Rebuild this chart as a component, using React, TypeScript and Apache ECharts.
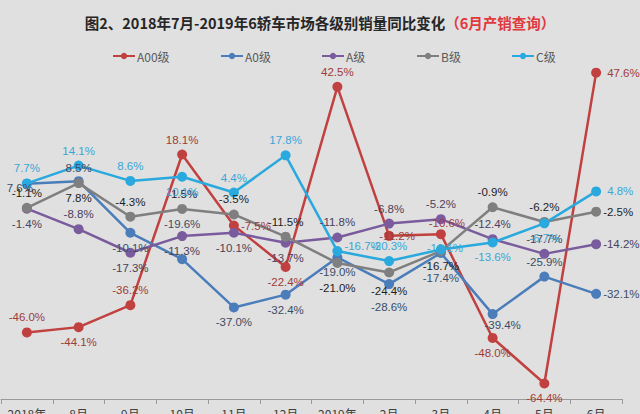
import React, { useEffect, useRef } from "react";
import * as echarts from "echarts";

const categories = ["2018年\n7月", "8月", "9月", "10月", "11月", "12月", "2019年\n1月", "2月", "3月", "4月", "5月", "6月"];
const seriesNames = ["A00级", "A0级", "A级", "B级", "C级"];
const a00Values = [-46.0, -44.1, -36.2, 18.1, -7.5, -22.4, 42.5, -11.2, -10.6, -48.0, -64.4, 47.6];
const a0Values = [7.6, 8.5, -10.1, -19.6, -37.0, -32.4, -19.0, -28.6, -17.4, -39.4, -25.9, -32.1];
const aValues = [-1.4, -8.8, -17.3, -11.3, -10.1, -13.7, -11.8, -6.8, -5.2, -12.4, -17.7, -14.2];
const bValues = [-1.1, 7.8, -4.3, -1.5, -3.5, -11.5, -21.0, -24.4, -16.7, -0.9, -6.2, -2.5];
const cValues = [7.7, 14.1, 8.6, 10.1, 4.4, 17.8, -16.7, -20.3, -16.1, -13.6, -6.7, 4.8];

// label placement per point (layout only)
type LP = [string, number, number];
const a00Pos: LP[] = [["top", 0, 0], ["bottom", 0, 0], ["top", 0, 0], ["top", 0, 0], ["right", -2, 0], ["bottom", 0, 0], ["top", 0, 0], ["inside", 8, 0], ["top", 6, 4], ["bottom", 0, 0], ["bottom", 0, 0], ["right", 2, 0]];
const a0Pos: LP[] = [["inside", -7, 4], ["top", 0, 2], ["bottom", 0, 0], ["top", 0, -20], ["bottom", 0, 0], ["bottom", 0, 0], ["bottom", 0, 0], ["bottom", 0, 8], ["bottom", 0, 10], ["bottom", 10, -4], ["top", 0, 0], ["right", -2, 0]];
const aPos: LP[] = [["bottom", 0, 0], ["top", 0, 0], ["bottom", 0, 0], ["bottom", 0, 0], ["bottom", 0, 0], ["bottom", 0, 0], ["top", 0, 0], ["top", 0, 0], ["top", 0, 0], ["top", 0, 0], ["top", 0, 0], ["right", -2, 0]];
const bPos: LP[] = [["top", 0, 0], ["bottom", 0, 0], ["top", 0, 0], ["top", 0, 0], ["top", 0, 0], ["top", 0, 0], ["bottom", 0, 10], ["bottom", 0, 4], ["bottom", 0, 0], ["top", 0, 0], ["top", 0, 0], ["right", -2, 0]];
const cPos: LP[] = [["top", 0, 0], ["top", 0, 0], ["top", 0, 0], ["bottom", 0, 0], ["top", 0, 0], ["top", 0, 0], ["right", -2, -5], ["top", 0, 0], ["top", 4, 14], ["bottom", 0, 0], ["bottom", 0, 0], ["right", 2, 0]];

const lineColors = ["#c0413f", "#4a7dba", "#7a5c9e", "#7f7f7f", "#2aa9de"];
const labelColors = ["#9e3b39", "#3b4d66", "#4a3f5c", "#1e1e1e", "#3aa6d6"];
const legendLefts = [107, 215, 316, 411, 506];

export default function App() {
  const ref = useRef<HTMLDivElement>(null);
  useEffect(() => {
    if (!ref.current) return;
    const chart = echarts.init(ref.current, null, { renderer: "svg" });
    const all = [a00Values, a0Values, aValues, bValues, cValues];
    const poss = [a00Pos, a0Pos, aPos, bPos, cPos];
    const series = all.map((vals, si) => ({
      name: seriesNames[si],
      type: "line",
      data: vals.map((v, i) => ({
        value: v,
        label: { position: poss[si][i][0], offset: [poss[si][i][1], poss[si][i][2]] },
      })),
      symbol: "circle",
      symbolSize: 10,
      lineStyle: { width: 2.5, color: lineColors[si] },
      itemStyle: { color: lineColors[si] },
      label: {
        show: true,
        formatter: (p: any) => p.value.toFixed(1) + "%",
        color: labelColors[si],
        fontSize: 11.5,
        fontFamily: "Liberation Sans",
        distance: 4,
      },
    }));
    chart.setOption({
      animation: false,
      backgroundColor: "#e0e0e0",
      title: {
        text: "{a|图2、2018年7月-2019年6轿车市场各级别销量同比变化}{b|（6月产销查询）}",
        left: "center",
        top: 10,
        textStyle: {
          rich: {
            a: { fontSize: 14.5, fontWeight: "bold", color: "#262626", fontFamily: "Noto Sans CJK SC" },
            b: { fontSize: 14.5, fontWeight: "bold", color: "#e0393e", fontFamily: "Noto Sans CJK SC" },
          },
        },
      },
      legend: seriesNames.map((n, i) => ({
        data: [n],
        left: legendLefts[i],
        top: 45,
        itemWidth: 22,
        itemHeight: 8,
        itemGap: 0,
        textStyle: { fontSize: 12, color: "#595959", fontFamily: "Noto Sans CJK SC", padding: [0, 0, 0, -3] },
      })),
      grid: { left: 1, right: 18, top: 66, bottom: 15, containLabel: false, outerBoundsMode: "none" },
      xAxis: {
        type: "category",
        data: categories,
        boundaryGap: true,
        axisLine: { onZero: false, lineStyle: { color: "#9a9a9a" } },
        axisTick: { show: true, interval: 0, lineStyle: { color: "#9a9a9a" } },
        axisLabel: { interval: 0, color: "#404040", fontSize: 12, margin: 8, fontFamily: "Noto Sans CJK SC", verticalAlign: "top" },
      },
      yAxis: {
        type: "value",
        min: -70,
        max: 50,
        show: false,
        splitLine: { show: false },
      },
      series,
    });
    return () => chart.dispose();
  }, []);
  return <div ref={ref} style={{ position: "fixed", left: 0, top: 0, width: 640, height: 414 }} />;
}
